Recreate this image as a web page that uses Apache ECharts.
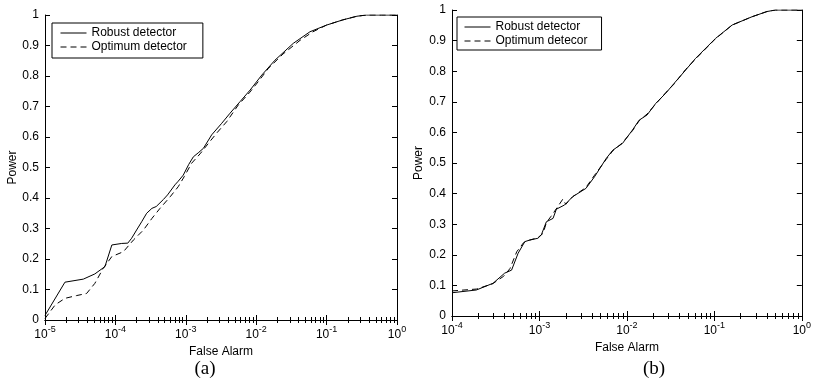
<!DOCTYPE html>
<html><head><meta charset="utf-8">
<script src="https://cdn.jsdelivr.net/npm/echarts@6/dist/echarts.min.js"></script>
<style>html,body{margin:0;padding:0;background:#fff}#c{width:814px;height:388px}</style>
</head><body><div id="c"></div>
<script>
// ---- Data (a) ----
const robustA_x = [1e-5, 1.92e-5, 3.5e-5, 5.1e-5, 7.1e-5, 8.9e-5, 1.23e-4, 1.5e-4, 1.7e-4, 2e-4, 2.36e-4, 2.78e-4, 3.3e-4, 3.8e-4, 4.8e-4, 5.5e-4, 7e-4, 7.8e-4, 9.2e-4, 1.1e-3, 1.28e-3, 1.5e-3, 1.78e-3, 2.33e-3, 3.24e-3, 4.25e-3, 5.9e-3, 8.2e-3, 1.2e-2, 1.85e-2, 3.36e-2, 5.8e-2, 0.1, 0.17, 0.27, 0.37, 0.6, 1];
const robustA_y = [0.015, 0.124, 0.134, 0.151, 0.175, 0.246, 0.251, 0.252, 0.268, 0.295, 0.322, 0.35, 0.366, 0.372, 0.395, 0.41, 0.443, 0.455, 0.475, 0.51, 0.535, 0.548, 0.563, 0.607, 0.645, 0.678, 0.716, 0.754, 0.803, 0.852, 0.907, 0.945, 0.967, 0.984, 0.996, 1.0, 1.0, 1.0];
const optimumA_x = [1e-5, 1.4e-5, 1.92e-5, 2.8e-5, 3.9e-5, 5.1e-5, 6.7e-5, 8.9e-5, 1.3e-4, 1.8e-4, 2.5e-4, 3.3e-4, 4.3e-4, 6e-4, 7.8e-4, 9.5e-4, 1.21e-3, 1.6e-3, 2.09e-3, 2.8e-3, 3.8e-3, 5.57e-3, 8e-3, 1.1e-2, 1.49e-2, 2.4e-2, 4.2e-2, 6.4e-2, 0.1, 0.17, 0.27, 0.37, 0.6, 1];
const optimumA_y = [0.005, 0.05, 0.071, 0.08, 0.087, 0.12, 0.169, 0.208, 0.224, 0.262, 0.295, 0.333, 0.366, 0.404, 0.437, 0.47, 0.514, 0.545, 0.579, 0.615, 0.65, 0.705, 0.745, 0.785, 0.825, 0.872, 0.917, 0.945, 0.967, 0.984, 0.996, 1.0, 1.0, 1.0];
// ---- Data (b) ----
const robustB_x = [1e-4, 1.9e-4, 2.95e-4, 4e-4, 4.8e-4, 5.7e-4, 6.8e-4, 7.7e-4, 9.6e-4, 1.05e-3, 1.2e-3, 1.43e-3, 1.56e-3, 1.94e-3, 2.4e-3, 3.4e-3, 4.26e-3, 5.8e-3, 6.9e-3, 8.9e-3, 1.16e-2, 1.38e-2, 1.7e-2, 2.14e-2, 2.78e-2, 3.46e-2, 4.7e-2, 6.1e-2, 0.103, 0.16, 0.27, 0.4, 0.5, 1];
const robustB_y = [0.076, 0.085, 0.107, 0.14, 0.15, 0.205, 0.243, 0.248, 0.254, 0.265, 0.308, 0.319, 0.349, 0.363, 0.39, 0.417, 0.455, 0.515, 0.542, 0.564, 0.608, 0.64, 0.657, 0.695, 0.728, 0.76, 0.804, 0.842, 0.907, 0.951, 0.978, 0.995, 1.0, 1.0];
const optimumB_x = [1e-4, 1.9e-4, 2.9e-4, 3.9e-4, 4.6e-4, 5.5e-4, 6.6e-4, 7.7e-4, 9.6e-4, 1.1e-3, 1.2e-3, 1.35e-3, 1.6e-3, 1.85e-3, 2.0e-3, 2.4e-3, 3.4e-3, 4.26e-3, 5.8e-3, 6.9e-3, 8.9e-3, 1.16e-2, 1.38e-2, 1.7e-2, 2.14e-2, 2.78e-2, 3.46e-2, 4.7e-2, 6.1e-2, 0.103, 0.16, 0.27, 0.4, 0.5, 1];
const optimumB_y = [0.082, 0.088, 0.105, 0.13, 0.155, 0.21, 0.24, 0.248, 0.256, 0.27, 0.305, 0.325, 0.355, 0.382, 0.365, 0.39, 0.42, 0.46, 0.512, 0.54, 0.566, 0.606, 0.638, 0.66, 0.693, 0.73, 0.758, 0.806, 0.84, 0.906, 0.951, 0.978, 0.995, 1.0, 1.0];

const namesA = ['Robust detector', 'Optimum detector'];
const namesB = ['Robust detector', 'Optimum detecor'];
const panelTitles = ['(a)', '(b)'];
const xMinA = 1e-5, xMinB = 1e-4, xMax = 1;
const xAxisTitle = 'False Alarm';
const yAxisTitle = 'Power';

const FONT = 'Liberation Sans';
const pairs = (xs, ys) => xs.map((x, i) => [x, ys[i]]);
const xLabel = v => '{b|10}{e|' + Math.round(Math.log10(v)) + '}';
const rich = {
  b: { fontSize: 12, fontFamily: FONT, color: '#000', verticalAlign: 'bottom', lineHeight: 16 },
  e: { fontSize: 9, fontFamily: FONT, color: '#000', verticalAlign: 'bottom', padding: [0, 0, 7, 0], lineHeight: 16 }
};

function xAxes(gi, min, split, nameGap) {
  return [{
    type: 'log', gridIndex: gi, min: min, max: xMax, logBase: 10, splitNumber: split,
    position: 'bottom',
    name: xAxisTitle, nameLocation: 'middle', nameGap: nameGap,
    nameTextStyle: { fontFamily: FONT, fontSize: 12, color: '#000' },
    axisLine: { show: true, lineStyle: { color: '#000', width: 1 } },
    axisTick: { show: true, inside: true, length: 5, lineStyle: { color: '#000' } },
    minorTick: { show: true, splitNumber: 9, length: 3, lineStyle: { color: '#000' } },
    axisLabel: { formatter: xLabel, rich: rich, margin: 5, fontSize: 12, fontFamily: FONT, color: '#000' },
    splitLine: { show: false }, minorSplitLine: { show: false }
  }, {
    type: 'log', gridIndex: gi, min: min, max: xMax, logBase: 10, splitNumber: split,
    position: 'top',
    axisLine: { show: true, lineStyle: { color: '#000', width: 1 } },
    axisTick: { show: true, inside: true, length: 5, lineStyle: { color: '#000' } },
    minorTick: { show: true, splitNumber: 9, length: 3, lineStyle: { color: '#000' } },
    axisLabel: { show: false },
    splitLine: { show: false }, minorSplitLine: { show: false }
  }];
}
function yAxes(gi, nameGap) {
  return [{
    type: 'value', gridIndex: gi, min: 0, max: 1, interval: 0.1, position: 'left',
    name: yAxisTitle, nameLocation: 'middle', nameGap: nameGap,
    nameTextStyle: { fontFamily: FONT, fontSize: 12, color: '#000' },
    axisLine: { show: true, lineStyle: { color: '#000', width: 1 } },
    axisTick: { show: true, inside: true, length: 5, lineStyle: { color: '#000' } },
    axisLabel: { fontFamily: FONT, fontSize: 12, color: '#000', margin: 6 },
    splitLine: { show: false }
  }, {
    type: 'value', gridIndex: gi, min: 0, max: 1, interval: 0.1, position: 'right',
    axisLine: { show: true, lineStyle: { color: '#000', width: 1 } },
    axisTick: { show: true, inside: true, length: 5, lineStyle: { color: '#000' } },
    axisLabel: { show: false },
    splitLine: { show: false }
  }];
}
function lineSeries(name, xi, yi, data, dashed) {
  return {
    type: 'line', name: name, xAxisIndex: xi, yAxisIndex: yi, data: data,
    symbol: 'none', showSymbol: false, smooth: false, animation: false,
    lineStyle: { color: '#000', width: 1, type: dashed ? [6, 4] : 'solid' },
    itemStyle: { color: '#000' }
  };
}
function legend(names, left, top, pad) {
  return {
    data: names, orient: 'vertical', left: left, top: top,
    itemWidth: 26, itemHeight: 12, itemGap: 2, padding: pad,
    borderColor: '#000', borderWidth: 1, backgroundColor: '#fff',
    itemStyle: { opacity: 0 },
    lineStyle: { width: 1 },
    textStyle: { fontFamily: FONT, fontSize: 12, color: '#000' },
    selectedMode: false
  };
}

const chart = echarts.init(document.getElementById('c'), null, { renderer: 'canvas' });
chart.setOption({
  animation: false,
  backgroundColor: '#fff',
  grid: [
    { left: 45, top: 15, width: 352, height: 305 },
    { left: 452, top: 10, width: 351, height: 306 }
  ],
  title: [
    { text: panelTitles[0], left: 200, top: 355, textAlign: 'center',
      textStyle: { fontFamily: 'Liberation Serif', fontSize: 19, fontWeight: 'normal', color: '#000' } },
    { text: panelTitles[1], left: 649, top: 355, textAlign: 'center',
      textStyle: { fontFamily: 'Liberation Serif', fontSize: 19, fontWeight: 'normal', color: '#000' } }
  ],
  legend: [
    legend(namesA, 52, 23, [4, 16, 5, 8]),
    legend(namesB, 457, 17, [4, 14, 3, 7])
  ],
  xAxis: [].concat(xAxes(0, xMinA, 5, 17), xAxes(1, xMinB, 4, 16)),
  yAxis: [].concat(yAxes(0, 25), yAxes(1, 27)),
  series: [
    lineSeries(namesA[0], 0, 0, pairs(robustA_x, robustA_y), false),
    lineSeries(namesA[1], 0, 0, pairs(optimumA_x, optimumA_y), true),
    lineSeries(namesB[0], 2, 2, pairs(robustB_x, robustB_y), false),
    lineSeries(namesB[1], 2, 2, pairs(optimumB_x, optimumB_y), true)
  ]
});
</script></body></html>
